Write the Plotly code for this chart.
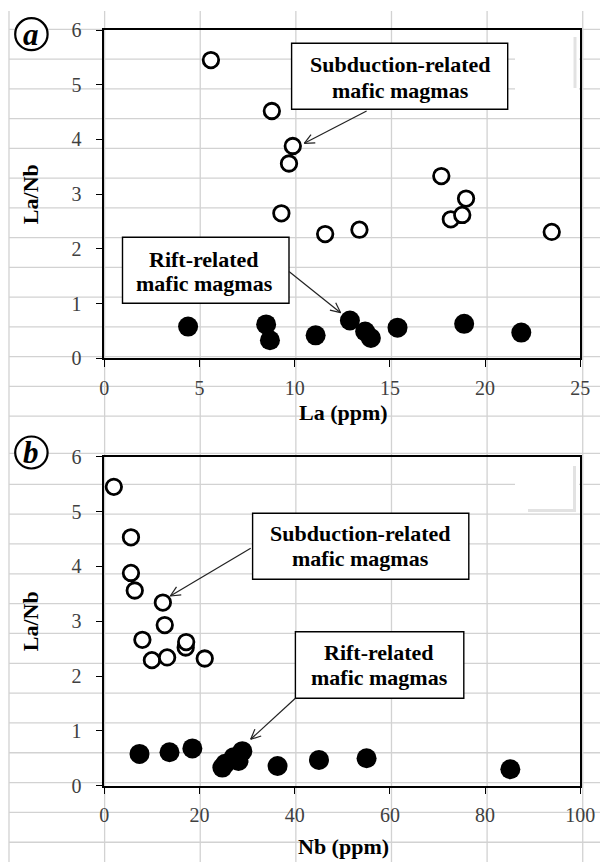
import numpy as np
import plotly.graph_objects as go

W, H = 600, 862

# ---------------- data ----------------
# Panel (a): La (ppm) vs La/Nb
a_sub_la = [5.6, 8.8, 9.9, 9.7, 9.3, 11.6, 13.4, 17.7, 18.2, 18.8, 19.0, 23.5]
a_sub_ratio = [5.45, 4.52, 3.88, 3.56, 2.65, 2.27, 2.35, 3.33, 2.54, 2.62, 2.92, 2.31]
a_rift_la = [4.4, 8.5, 8.7, 11.1, 12.9, 13.7, 14.0, 15.4, 18.9, 21.9]
a_rift_ratio = [0.58, 0.62, 0.33, 0.42, 0.69, 0.49, 0.37, 0.56, 0.63, 0.47]

# Panel (b): Nb (ppm) vs La/Nb
b_sub_nb = [2.0, 5.6, 5.6, 6.4, 12.3, 12.7, 8.0, 10.0, 13.2, 17.1, 17.2, 21.1]
b_sub_ratio = [5.45, 4.53, 3.88, 3.56, 3.34, 2.93, 2.66, 2.29, 2.34, 2.52, 2.62, 2.32]
b_rift_nb = [7.4, 13.7, 18.5, 24.8, 25.4, 27.2, 28.2, 29.0, 36.4, 45.1, 55.1, 85.3]
b_rift_ratio = [0.58, 0.61, 0.68, 0.33, 0.40, 0.52, 0.45, 0.63, 0.36, 0.47, 0.50, 0.30]

x_ticks_a = [0, 5, 10, 15, 20, 25]
x_ticks_b = [0, 20, 40, 60, 80, 100]
y_ticks = [0, 1, 2, 3, 4, 5, 6]

label_sub = ["Subduction-related", "mafic magmas"]
label_rift = ["Rift-related", "mafic magmas"]

SERIF = "Liberation Serif"


def px(x):
    return x / W


def py(y):
    return 1 - y / H


fig = go.Figure()

open_marker = dict(symbol="circle", size=15.5, color="white",
                   line=dict(color="black", width=2.8))
fill_marker = dict(symbol="circle", size=20, color="black",
                   line=dict(color="black", width=0))

fig.add_trace(go.Scatter(x=a_sub_la, y=a_sub_ratio, mode="markers",
                         marker=open_marker, xaxis="x", yaxis="y", showlegend=False))
fig.add_trace(go.Scatter(x=a_rift_la, y=a_rift_ratio, mode="markers",
                         marker=fill_marker, xaxis="x", yaxis="y", showlegend=False))
fig.add_trace(go.Scatter(x=b_sub_nb, y=b_sub_ratio, mode="markers",
                         marker=open_marker, xaxis="x2", yaxis="y2", showlegend=False))
fig.add_trace(go.Scatter(x=b_rift_nb, y=b_rift_ratio, mode="markers",
                         marker=fill_marker, xaxis="x2", yaxis="y2", showlegend=False))

# ---------------- layout geometry (pixels) ----------------
PX0, PX1 = 104.3, 580.3
A_TOP, A_BOT = 30.0, 358.3
B_TOP, B_BOT = 456.7, 785.7

axis_common = dict(showline=True, linecolor="black", linewidth=1.5, mirror=True,
                   ticks="outside", ticklen=7, tickcolor="black", tickwidth=1.3,
                   showgrid=False, zeroline=False, automargin=False,
                   tickfont=dict(family=SERIF, size=20, color="#404040"))

shapes = []
annotations = []

# spreadsheet cell grid in the background
GRID = "#d2d2d2"
for k in range(7):
    xv = 9 + k * 95.62
    shapes.append(dict(type="line", xref="paper", yref="paper", layer="below",
                       x0=px(xv), x1=px(xv), y0=py(11), y1=py(H),
                       line=dict(color=GRID, width=1.3)))
row_lines = [29.3 + k * 29.76 for k in range(14)] + [453.3] + [484.3 + k * 29.83 for k in range(13)]
for yv in row_lines:
    shapes.append(dict(type="line", xref="paper", yref="paper", layer="below",
                       x0=px(9), x1=px(W), y0=py(yv), y1=py(yv),
                       line=dict(color=GRID, width=1.3)))

# hidden white boxes with faint shadows (top-right of each panel)
shapes.append(dict(type="rect", xref="paper", yref="paper", layer="below",
                   x0=px(515), x1=px(579), y0=py(33), y1=py(91),
                   fillcolor="white", line=dict(width=0)))
shapes.append(dict(type="line", xref="paper", yref="paper", layer="below",
                   x0=px(575), x1=px(575), y0=py(37), y1=py(88),
                   line=dict(color="#e2e2e2", width=3)))
shapes.append(dict(type="rect", xref="paper", yref="paper", layer="below",
                   x0=px(515), x1=px(579), y0=py(460), y1=py(512),
                   fillcolor="white", line=dict(width=0)))
shapes.append(dict(type="line", xref="paper", yref="paper", layer="below",
                   x0=px(574.5), x1=px(574.5), y0=py(466), y1=py(511),
                   line=dict(color="#e2e2e2", width=3)))
shapes.append(dict(type="line", xref="paper", yref="paper", layer="below",
                   x0=px(528), x1=px(576), y0=py(510.5), y1=py(510.5),
                   line=dict(color="#e2e2e2", width=3)))


def box(x0, y0, x1, y1):
    shapes.append(dict(type="rect", xref="paper", yref="paper",
                       x0=px(x0), x1=px(x1), y0=py(y0), y1=py(y1),
                       fillcolor="white", line=dict(color="black", width=1.4)))


def text(x, y, s, size=22, bold=True, italic=False, angle=0):
    t = s
    if bold:
        t = "<b>" + t + "</b>"
    if italic:
        t = "<i>" + t + "</i>"
    annotations.append(dict(x=px(x), y=py(y), xref="paper", yref="paper", text=t,
                            showarrow=False, xanchor="center", yanchor="middle",
                            textangle=angle,
                            font=dict(family=SERIF, size=size, color="black")))


def arrow(xt, yt, xh, yh, arm=11, ang=25):
    shapes.append(dict(type="line", xref="paper", yref="paper",
                       x0=px(xt), y0=py(yt), x1=px(xh), y1=py(yh),
                       line=dict(color="#222222", width=1.2)))
    d = np.array([xt - xh, yt - yh], dtype=float)
    d /= np.linalg.norm(d)
    for s in (-1, 1):
        a = np.deg2rad(ang * s)
        r = np.array([d[0] * np.cos(a) - d[1] * np.sin(a),
                      d[0] * np.sin(a) + d[1] * np.cos(a)])
        shapes.append(dict(type="line", xref="paper", yref="paper",
                           x0=px(xh), y0=py(yh), x1=px(xh + arm * r[0]), y1=py(yh + arm * r[1]),
                           line=dict(color="#222222", width=1.2)))


# panel (a) callouts
box(291.6, 43.3, 507.7, 109.3)
text(400, 65, label_sub[0])
text(400, 90, label_sub[1])
arrow(366.6, 111, 304.3, 143.3)

box(122.5, 237.3, 289, 303.3)
text(204, 259, label_rift[0])
text(204, 283, label_rift[1])
arrow(289, 271.5, 340.6, 312.7)

# panel (b) callouts
box(252.6, 513.3, 468.8, 579.3)
text(360, 533, label_sub[0])
text(360, 558, label_sub[1])
arrow(250.7, 548.3, 170.3, 596)

box(295.4, 631.7, 463.8, 698.3)
text(379, 652, label_rift[0])
text(379, 677, label_rift[1])
arrow(295.4, 698.3, 250.7, 739.3)

# circled panel letters
for cy, letter in ((34.2, "a"), (452.5, "b")):
    shapes.append(dict(type="circle", xref="paper", yref="paper",
                       x0=px(15.2), x1=px(47.6), y0=py(cy - 16), y1=py(cy + 16),
                       fillcolor="white", line=dict(color="black", width=2.2)))
    text(31.4, cy, letter, size=31, bold=True, italic=True)

# axis titles
text(343, 413, "La (ppm)")
text(343, 846, "Nb (ppm)")
text(30, (A_TOP + A_BOT) / 2, "La/Nb", angle=-90)
text(30, (B_TOP + B_BOT) / 2, "La/Nb", angle=-90)

fig.update_layout(
    width=W, height=H,
    margin=dict(l=0, r=0, t=0, b=0, pad=0, autoexpand=False),
    paper_bgcolor="white", plot_bgcolor="rgba(0,0,0,0)",
    showlegend=False,
    xaxis=dict(domain=[px(PX0), px(PX1)], range=[0, 25], tickvals=x_ticks_a,
               anchor="y", ticklabelstandoff=4, **axis_common),
    yaxis=dict(domain=[py(A_BOT), py(A_TOP)], range=[0, 6], tickvals=y_ticks,
               anchor="x", ticklabelstandoff=10, **axis_common),
    xaxis2=dict(domain=[px(PX0), px(PX1)], range=[0, 100], tickvals=x_ticks_b,
                anchor="y2", ticklabelstandoff=4, **axis_common),
    yaxis2=dict(domain=[py(B_BOT), py(B_TOP)], range=[0, 6], tickvals=y_ticks,
                anchor="x2", ticklabelstandoff=10, **axis_common),
    shapes=shapes,
    annotations=annotations,
)

fig.write_html(
    "out.html",
    config={"displayModeBar": False},
    post_script="document.body.style.margin='0';document.body.style.padding='0';"
                "document.documentElement.style.overflow='hidden';",
)
